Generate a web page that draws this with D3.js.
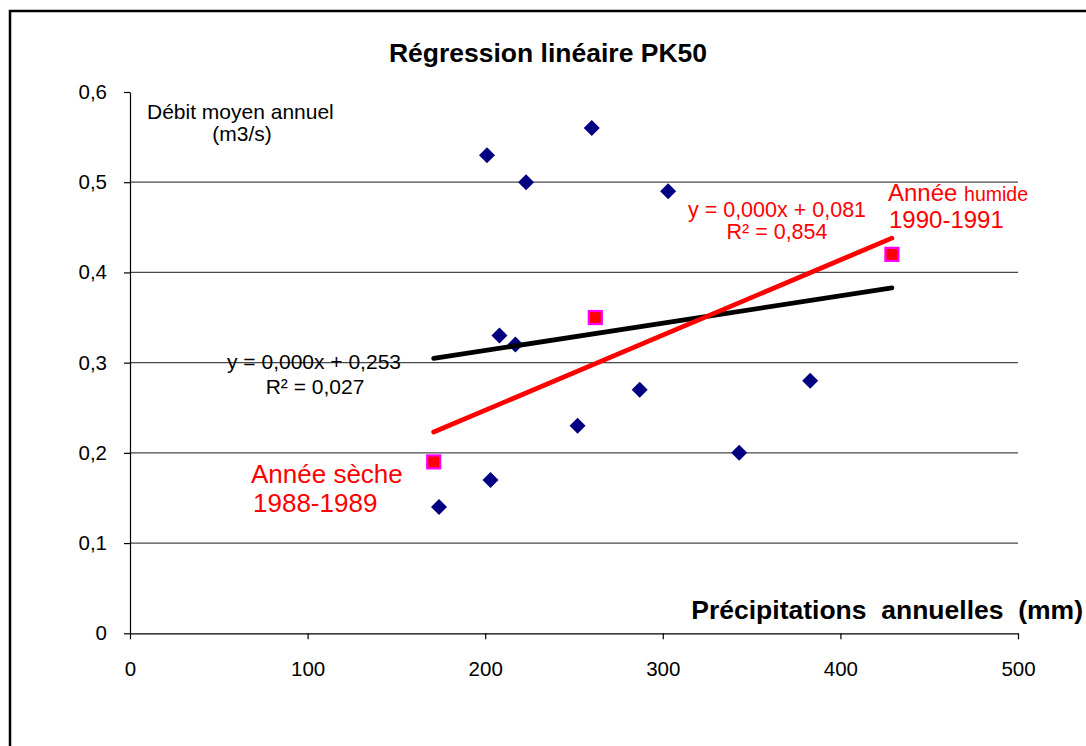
<!DOCTYPE html>
<html>
<head>
<meta charset="utf-8">
<script src="https://cdn.jsdelivr.net/npm/d3@7"></script>
<style>
  html, body { margin: 0; padding: 0; background: #fff; }
  svg { display: block; font-family: "Liberation Sans", Arial, sans-serif; }
  text { white-space: pre; }
</style>
</head>
<body>
<svg id="chart" width="1086" height="746"></svg>
<script>
// ---- data ----
const blueX = [201, 223, 260, 303, 208, 217, 252, 287, 343, 383, 203, 174];
const blueY = [0.53, 0.50, 0.56, 0.49, 0.33, 0.32, 0.23, 0.27, 0.20, 0.28, 0.17, 0.14];
const redX = [171, 262, 429];
const redY = [0.19, 0.35, 0.42];
const xTicks = [0, 100, 200, 300, 400, 500];
const yTicks = [0, 0.1, 0.2, 0.3, 0.4, 0.5, 0.6];
const gridTicks = [0.1, 0.2, 0.3, 0.4, 0.5];

const title = "Régression linéaire PK50";
const xTitle = "Précipitations  annuelles  (mm)";
const yTitle1 = "Débit moyen annuel";
const yTitle2 = "(m3/s)";
const eqAll = ["y = 0,000x + 0,253", "R² = 0,027"];
const eqRed = ["y = 0,000x + 0,081", "R² = 0,854"];

// ---- setup ----
const svg = d3.select("#chart");
const x = d3.scaleLinear().domain([0, 500]).range([130, 1018]);
const y = d3.scaleLinear().domain([0, 0.6]).range([633.3, 92]);
const fr = d3.formatLocale({decimal: ",", thousands: " ", grouping: [3], currency: ["", " €"]});
const fmtY = d => d === 0 ? "0" : fr.format(".1f")(d);

function fit(xs, ys) {
  const mx = d3.mean(xs), my = d3.mean(ys);
  let sxy = 0, sxx = 0;
  xs.forEach((v, i) => { sxy += (v - mx) * (ys[i] - my); sxx += (v - mx) * (v - mx); });
  const b = sxy / sxx, a = my - b * mx;
  const x0 = d3.min(xs), x1 = d3.max(xs);
  return [[x0, a + b * x0], [x1, a + b * x1]];
}

// frame
svg.append("rect").attr("x", 10).attr("y", 11).attr("width", 1200).attr("height", 900)
  .attr("fill", "none").attr("stroke", "#000").attr("stroke-width", 2.5);

// title
svg.append("text").attr("x", 548).attr("y", 62).attr("text-anchor", "middle")
  .attr("font-size", 26.5).attr("font-weight", "bold").text(title);

// gridlines
svg.append("g").selectAll("line").data(gridTicks).join("line")
  .attr("x1", x(0)).attr("x2", x(500))
  .attr("y1", d => y(d)).attr("y2", d => y(d))
  .attr("stroke", "#4a4a4a").attr("stroke-width", 1.3);

// axes
const yAxis = svg.append("g").attr("transform", `translate(${x(0)},0)`)
  .call(d3.axisLeft(y).tickValues(yTicks).tickFormat(fmtY).tickSize(6).tickSizeOuter(0).tickPadding(17));
const xAxis = svg.append("g").attr("transform", `translate(0,${y(0)})`)
  .call(d3.axisBottom(x).tickValues(xTicks).tickSize(6).tickSizeOuter(0).tickPadding(22));
[yAxis, xAxis].forEach(g => {
  g.attr("font-family", null).attr("font-size", null);
  g.selectAll("text").attr("font-size", 20.5).attr("fill", "#000");
  g.selectAll("line, path").attr("stroke", "#000").attr("stroke-width", 1.2);
});

// axis titles
svg.append("text").attr("x", 147).attr("y", 119).attr("font-size", 21).text(yTitle1);
svg.append("text").attr("x", 242).attr("y", 141).attr("text-anchor", "middle").attr("font-size", 21).text(yTitle2);
svg.append("text").attr("x", 1083).attr("y", 619).attr("text-anchor", "end")
  .attr("font-size", 26.5).attr("font-weight", "bold").text(xTitle);

// points
const blue = blueX.map((v, i) => [v, blueY[i]]);
const red = redX.map((v, i) => [v, redY[i]]);
svg.append("g").selectAll("path").data(blue).join("path")
  .attr("d", d3.symbol(d3.symbolSquare).size(128))
  .attr("transform", d => `translate(${x(d[0])},${y(d[1])}) rotate(45)`)
  .attr("fill", "#000080");
svg.append("g").selectAll("rect").data(red).join("rect")
  .attr("x", d => x(d[0]) - 6.5).attr("y", d => y(d[1]) - 6.5)
  .attr("width", 13).attr("height", 13)
  .attr("fill", "#ff0000").attr("stroke", "#ff00ff").attr("stroke-width", 2.2);

// trend lines
const line = d3.line().x(d => x(d[0])).y(d => y(d[1]));
svg.append("path").datum(fit(blueX.concat(redX), blueY.concat(redY))).attr("d", line)
  .attr("stroke", "#000").attr("stroke-width", 4.8).attr("stroke-linecap", "round").attr("fill", "none");
svg.append("path").datum(fit(redX, redY)).attr("d", line)
  .attr("stroke", "#ff0000").attr("stroke-width", 4.8).attr("stroke-linecap", "round").attr("fill", "none");

// equations
svg.append("text").attr("x", 314).attr("y", 369).attr("text-anchor", "middle").attr("font-size", 21).text(eqAll[0]);
svg.append("text").attr("x", 315).attr("y", 394).attr("text-anchor", "middle").attr("font-size", 21).text(eqAll[1]);
svg.append("text").attr("x", 777).attr("y", 217).attr("text-anchor", "middle").attr("font-size", 21.5).attr("fill", "#ff0000").text(eqRed[0]);
svg.append("text").attr("x", 777).attr("y", 239).attr("text-anchor", "middle").attr("font-size", 21.5).attr("fill", "#ff0000").text(eqRed[1]);

// annotations
const wet = svg.append("text").attr("x", 888).attr("y", 201).attr("fill", "#ff0000");
wet.append("tspan").attr("font-size", 24).text("Année ");
wet.append("tspan").attr("font-size", 19.5).text("humide");
svg.append("text").attr("x", 889).attr("y", 228).attr("font-size", 24).attr("fill", "#ff0000").text("1990-1991");
svg.append("text").attr("x", 251).attr("y", 483).attr("font-size", 26).attr("fill", "#ff0000").text("Année sèche");
svg.append("text").attr("x", 253).attr("y", 512).attr("font-size", 26).attr("fill", "#ff0000").text("1988-1989");
</script>
</body>
</html>
